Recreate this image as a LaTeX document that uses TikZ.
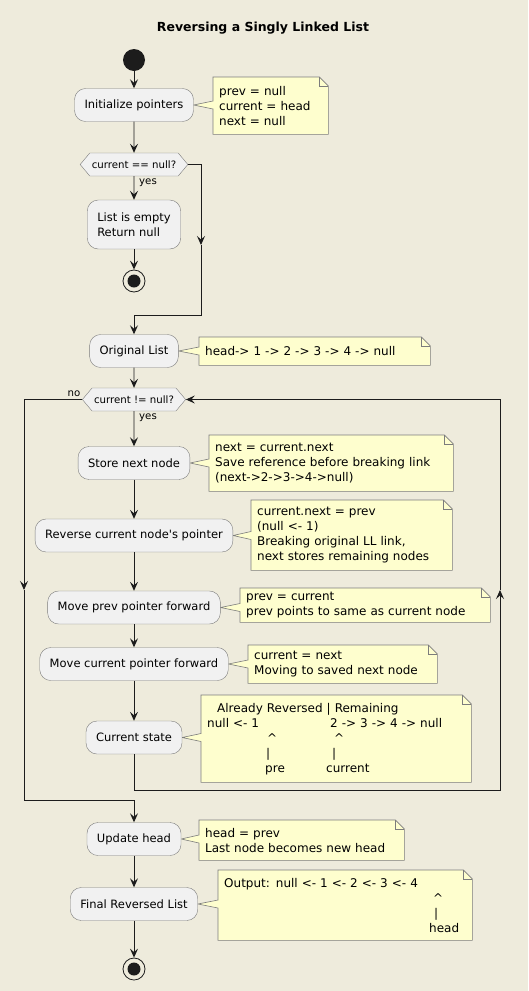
\documentclass[tikz,border=0pt]{standalone}
\usepackage{fontspec}
\setmainfont{DejaVu Sans}
\usetikzlibrary{arrows.meta,shapes.symbols,calc,backgrounds}

\definecolor{paper}{HTML}{EEEBDC}
\definecolor{boxfill}{HTML}{F1F1F1}
\definecolor{notefill}{HTML}{FEFECE}
\definecolor{edge}{HTML}{7C7C7C}
\definecolor{ink}{HTML}{1C1C1C}

% note outline: dog-ear corner plus the wedge pointing at its activity
\newcommand{\notefold}[2]{%
  \begin{scope}[on background layer]
    \filldraw[notebody] (#1.north west) -- ([xshift=-9pt]#1.north east) -- ([yshift=-9pt]#1.north east)
      -- (#1.south east) -- (#1.south west) -- ($(#1.west |- #2.east)+(0,4)$) -- (#2.east)
      -- ($(#1.west |- #2.east)+(0,-4)$) -- cycle;
    \draw[notebody,fill=none] ([xshift=-9pt]#1.north east) -- ([xshift=-9pt,yshift=-9pt]#1.north east) -- ([yshift=-9pt]#1.north east);
  \end{scope}}

\begin{document}
\begin{tikzpicture}[x=1pt,y=-1pt,
    act/.style={rectangle, rounded corners=11pt, draw=edge, fill=boxfill, minimum height=33pt, inner xsep=10pt, font=\fontsize{11.5}{15}\selectfont},
    test/.style={signal, signal to=west and east, signal pointer angle=100, draw=edge, fill=boxfill, minimum height=23pt, inner xsep=2pt, inner ysep=0pt, font=\fontsize{10.2}{12}\selectfont},
    note/.style={anchor=north west, inner xsep=6pt, inner ysep=0pt, align=left, font=\fontsize{12}{15}\selectfont},
    notebody/.style={draw=edge, fill=notefill, line width=0.6pt},
    lbl/.style={inner sep=1pt, font=\fontsize{10.2}{12}\selectfont},
    startdot/.style={circle, fill=ink, minimum size=22pt, inner sep=0pt},
    stopdot/.style={circle, draw=ink, line width=0.8pt, minimum size=22pt, inner sep=0pt, path picture={\fill[ink] (path picture bounding box.center) circle (6.5pt);}},
    wire/.style={draw=ink, line width=0.9pt},
    flow/.style={wire, -{Stealth[length=9pt,width=8pt,inset=3.5pt]}}]

\begin{scope}[on background layer]
  \fill[paper] (0,0) rectangle (528,991);
\end{scope}
\useasboundingbox (0,0) rectangle (528,991);

\node[font=\fontsize{12.5}{15}\selectfont\bfseries] (title) at (263,28) {Reversing a Singly Linked List};

% activities
\node[startdot] (begin) at (134,60) {};
\node[act] (init) at (134,105) {Initialize pointers};
\node[test] (chk1) at (134,164.5) {current == null?};
\node[act, align=left, minimum height=49pt] (empty) at (134,224.5) {List is empty\\Return null};
\node[stopdot] (stop1) at (134,281) {};
\node[act] (orig) at (134,351) {Original List};
\node[test] (chk2) at (134,399.5) {current != null?};
\node[act] (store) at (134,463) {Store next node};
\node[act] (rev) at (134,535.5) {Reverse current node\textquotesingle s pointer};
\node[act] (prev) at (134,607.5) {Move prev pointer forward};
\node[act] (cur) at (134,664) {Move current pointer forward};
\node[act] (state) at (134,737.5) {Current state};
\node[act] (update) at (134,839) {Update head};
\node[act] (final) at (134,904) {Final Reversed List};
\node[stopdot] (stop2) at (134,969) {};

% notes
\node[note, text width=103pt, minimum height=57pt] (n1) at (213,77) {prev = null\\current = head\\next = null};
\node[note, text width=219pt, minimum height=28pt] (n2) at (199,337) {head-> 1 -> 2 -> 3 -> 4 -> null};
\node[note, text width=232pt, minimum height=56pt] (n3) at (209,435) {next = current.next\\Save reference before breaking link\\(next->2->3->4->null)};
\node[note, text width=189pt, minimum height=70pt] (n4) at (251,500) {current.next = prev\\(null <- 1)\\Breaking original LL link,\\next stores remaining nodes};
\node[note, text width=238pt, minimum height=34pt] (n5) at (240,588) {prev = current\\prev points to same as current node};
\node[note, text width=177pt, minimum height=38pt] (n6) at (248,645) {current = next\\Moving to saved next node};
\node[note, text width=258pt, minimum height=87pt] (n7) at (201,695) {%
  \mbox{\hspace*{10pt}Already Reversed | Remaining}\\
  \mbox{\makebox[123pt][l]{null <- 1}2 -> 3 -> 4 -> null}\\
  \mbox{\hspace*{60pt}\makebox[67pt][l]{\textasciicircum}\textasciicircum}\\
  \mbox{\hspace*{59pt}\makebox[66pt][l]{|}|}\\
  \mbox{\hspace*{58pt}\makebox[61pt][l]{pre}current}};
\node[note, text width=193pt, minimum height=40pt] (n8) at (199,820) {head = prev\\Last node becomes new head};
\node[note, text width=242pt, minimum height=70pt] (n9) at (218,870) {%
  Output: null <- 1 <- 2 <- 3 <- 4\\
  \hspace*{209pt}\textasciicircum\\
  \hspace*{210pt}|\\
  \hspace*{205pt}head};

\notefold{n1}{init}
\notefold{n2}{orig}
\notefold{n3}{store}
\notefold{n4}{rev}
\notefold{n5}{prev}
\notefold{n6}{cur}
\notefold{n7}{state}
\notefold{n8}{update}
\notefold{n9}{final}

% branch labels
\node[lbl, anchor=west] (yes1) at (138,183) {yes};
\node[lbl, anchor=west] (yes2) at (138,418) {yes};
\node[lbl] (no) at (74,394) {no};

% bend points
\coordinate (skipa) at (201,245);
\coordinate (skipb) at (134,315);
\coordinate (back1) at (134,790);
\coordinate (back2) at (500,590);
\coordinate (exit1) at (24,590);
\coordinate (exit2) at (134,800);

% connectors
\draw[flow] (begin) -- (init);
\draw[flow] (init) -- (chk1);
\draw[flow] (chk1) -- (empty);
\draw[flow] (empty) -- (stop1);
\draw[flow] (chk1.east) -| (skipa);
\draw[wire] (skipa) |- (skipb);
\draw[flow] (skipb) -- (orig);
\draw[flow] (orig) -- (chk2);
\draw[flow] (chk2) -- (store);
\draw[flow] (store) -- (rev);
\draw[flow] (rev) -- (prev);
\draw[flow] (prev) -- (cur);
\draw[flow] (cur) -- (state);
\draw[flow] (state.south) -- (back1) -| (back2);
\draw[flow] (back2) |- (chk2.east);
\draw[flow] (chk2.west) -| (exit1);
\draw[wire] (exit1) |- (exit2);
\draw[flow] (exit2) -- (update);
\draw[flow] (update) -- (final);
\draw[flow] (final) -- (stop2);

\end{tikzpicture}
\end{document}
